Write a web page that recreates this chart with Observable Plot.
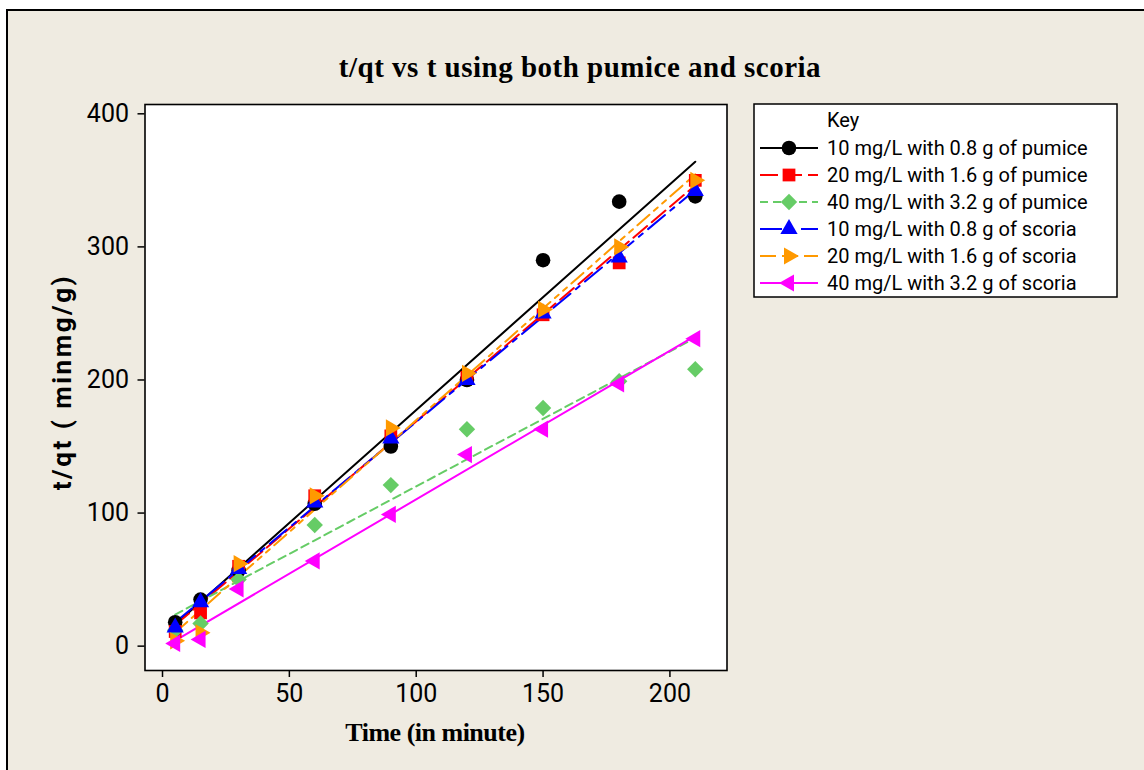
<!DOCTYPE html>
<html>
<head>
<meta charset="utf-8">
<script src="https://cdn.jsdelivr.net/npm/d3@7"></script>
<script src="https://cdn.jsdelivr.net/npm/@observablehq/plot@0.6"></script>
<style>
html, body { margin: 0; padding: 0; overflow: hidden; background: #ffffff; }
#fig { position: relative; width: 1144px; height: 770px; overflow: hidden; }
#panel { position: absolute; left: 6px; top: 9px; width: 1160px; height: 790px; background: #efebe1; border: 2px solid #000; box-sizing: border-box; }
#chart, #overlay { position: absolute; left: 0; top: 0; }
</style>
</head>
<body>
<div id="fig"><div id="panel"></div><div id="chart"></div><svg id="overlay" width="1144" height="770"></svg></div>
<script>
// ---- data ----
const times = [5, 15, 30, 60, 90, 120, 150, 180, 210];
const pumice10 = [18, 35, 57, 107, 150, 200, 290, 334, 338];
const pumice20 = [11, 25, 60, 113, 158, 202, 249, 288, 350];
const pumice40 = [12, 17, 50, 91, 121, 163, 179, 199, 208];
const scoria10 = [14, 33, 58, 108, 156, 200, 250, 292, 342];
const scoria20 = [4, 10, 62, 113, 164, 205, 253, 300, 350];
const scoria40 = [2, 5, 43, 64, 99, 144, 163, 197, 231];
const seriesLabels = [
  "10 mg/L with 0.8 g of pumice",
  "20 mg/L with 1.6 g of pumice",
  "40 mg/L with 3.2 g of pumice",
  "10 mg/L with 0.8 g of scoria",
  "20 mg/L with 1.6 g of scoria",
  "40 mg/L with 3.2 g of scoria"
];
const seriesValues = [pumice10, pumice20, pumice40, scoria10, scoria20, scoria40];
const xTicks = [0, 50, 100, 150, 200];
const yTicks = [0, 100, 200, 300, 400];
const titleText = "t/qt vs t using both pumice and scoria";
const xLabel = "Time (in minute)";
const yLabel = "t/qt ( minmg/g)";
const keyLabel = "Key";

// ---- custom symbols ----
const triRight = { draw(ctx, size) { const a = Math.sqrt(size / (3 * Math.sqrt(3))); ctx.moveTo(2 * a, 0); ctx.lineTo(-a, -Math.sqrt(3) * a); ctx.lineTo(-a, Math.sqrt(3) * a); ctx.closePath(); } };
const triLeft = { draw(ctx, size) { const a = Math.sqrt(size / (3 * Math.sqrt(3))); ctx.moveTo(-2 * a, 0); ctx.lineTo(a, -Math.sqrt(3) * a); ctx.lineTo(a, Math.sqrt(3) * a); ctx.closePath(); } };

// ---- styles ----
const styles = [
  { color: "#000000", symbol: "circle", d3sym: d3.symbolCircle, r: 7.3, dash: null },
  { color: "#ff0000", symbol: "square", d3sym: d3.symbolSquare, r: 7.2, dash: "18,6" },
  { color: "#66cc66", symbol: "diamond2", d3sym: d3.symbolDiamond2, r: 7.4, dash: "8,5" },
  { color: "#0000ff", symbol: "triangle", d3sym: d3.symbolTriangle, r: 6.4, dash: "22,7,5,7" },
  { color: "#ff9900", symbol: triRight, d3sym: triRight, r: 6.4, dash: "16,6,5,6,5,6" },
  { color: "#ff00ff", symbol: triLeft, d3sym: triLeft, r: 6.4, dash: null }
];

const rowsFor = (i) => times.map((t, j) => ({ t, v: seriesValues[i][j], series: seriesLabels[i] }));

const fitMarks = styles.map((s, i) => Plot.linearRegressionY(rowsFor(i), {
  x: "t", y: "v", ci: 0, stroke: s.color, strokeWidth: 2, strokeDasharray: s.dash || undefined
}));
const dotMarks = styles.map((s, i) => Plot.dot(rowsFor(i), {
  x: "t", y: "v", symbol: s.symbol, r: s.r, fill: s.color, stroke: "none"
}));

const chart = Plot.plot({
  width: 1144,
  height: 770,
  marginLeft: 144.5,
  marginRight: 417.5,
  marginTop: 104,
  marginBottom: 100,
  style: { background: "transparent", fontFamily: "Roboto, sans-serif", fontSize: "25px", color: "#000" },
  x: { domain: [-6.9, 222.5], label: null },
  y: { domain: [-18.3, 407], label: null },
  marks: [
    Plot.frame({ fill: "white", stroke: "none" }),
    ...fitMarks,
    ...dotMarks,
    Plot.axisX({ ticks: xTicks, tickSize: 7, tickPadding: 7, strokeWidth: 1.5, fontSize: 25, label: null }),
    Plot.axisY({ ticks: yTicks, tickSize: 7, tickPadding: 9, strokeWidth: 1.5, fontSize: 25, label: null }),
    Plot.frame({ stroke: "black", strokeWidth: 1.6 })
  ]
});
document.getElementById("chart").appendChild(chart);

// ---- titles and legend ----
const ov = d3.select("#overlay");
ov.append("text").attr("x", 580).attr("y", 77).attr("text-anchor", "middle")
  .style("font-family", "'Liberation Serif', serif").style("font-weight", "bold")
  .style("font-size", "29px").style("letter-spacing", "0.5px").text(titleText);
ov.append("text").attr("x", 435).attr("y", 741).attr("text-anchor", "middle")
  .style("font-family", "'Liberation Serif', serif").style("font-weight", "bold")
  .style("font-size", "26px").style("letter-spacing", "-0.5px").text(xLabel);
ov.append("text").attr("transform", "translate(71,382) rotate(-90)").attr("text-anchor", "middle")
  .style("font-family", "Roboto, sans-serif").style("font-weight", "bold")
  .style("font-size", "26px").style("letter-spacing", "2.5px").text(yLabel);

const lg = ov.append("g").attr("transform", "translate(754,104)");
lg.append("rect").attr("x", 0).attr("y", 0).attr("width", 363).attr("height", 193)
  .attr("fill", "white").attr("stroke", "black").attr("stroke-width", 1.5);
lg.append("text").attr("x", 73).attr("y", 23).style("font-family", "Roboto, sans-serif")
  .style("font-size", "20px").text(keyLabel);
styles.forEach((s, i) => {
  const cy = 44 + 27 * i;
  lg.append("line").attr("x1", 6).attr("x2", 64).attr("y1", cy).attr("y2", cy)
    .attr("stroke", s.color).attr("stroke-width", 2).attr("stroke-dasharray", s.dash);
  lg.append("path").attr("transform", `translate(35,${cy})`)
    .attr("d", d3.symbol(s.d3sym, Math.PI * s.r * s.r)()).attr("fill", s.color);
  lg.append("text").attr("x", 73).attr("y", cy + 7).style("font-family", "Roboto, sans-serif")
    .style("font-size", "20px").text(seriesLabels[i]);
});
</script>
</body>
</html>
